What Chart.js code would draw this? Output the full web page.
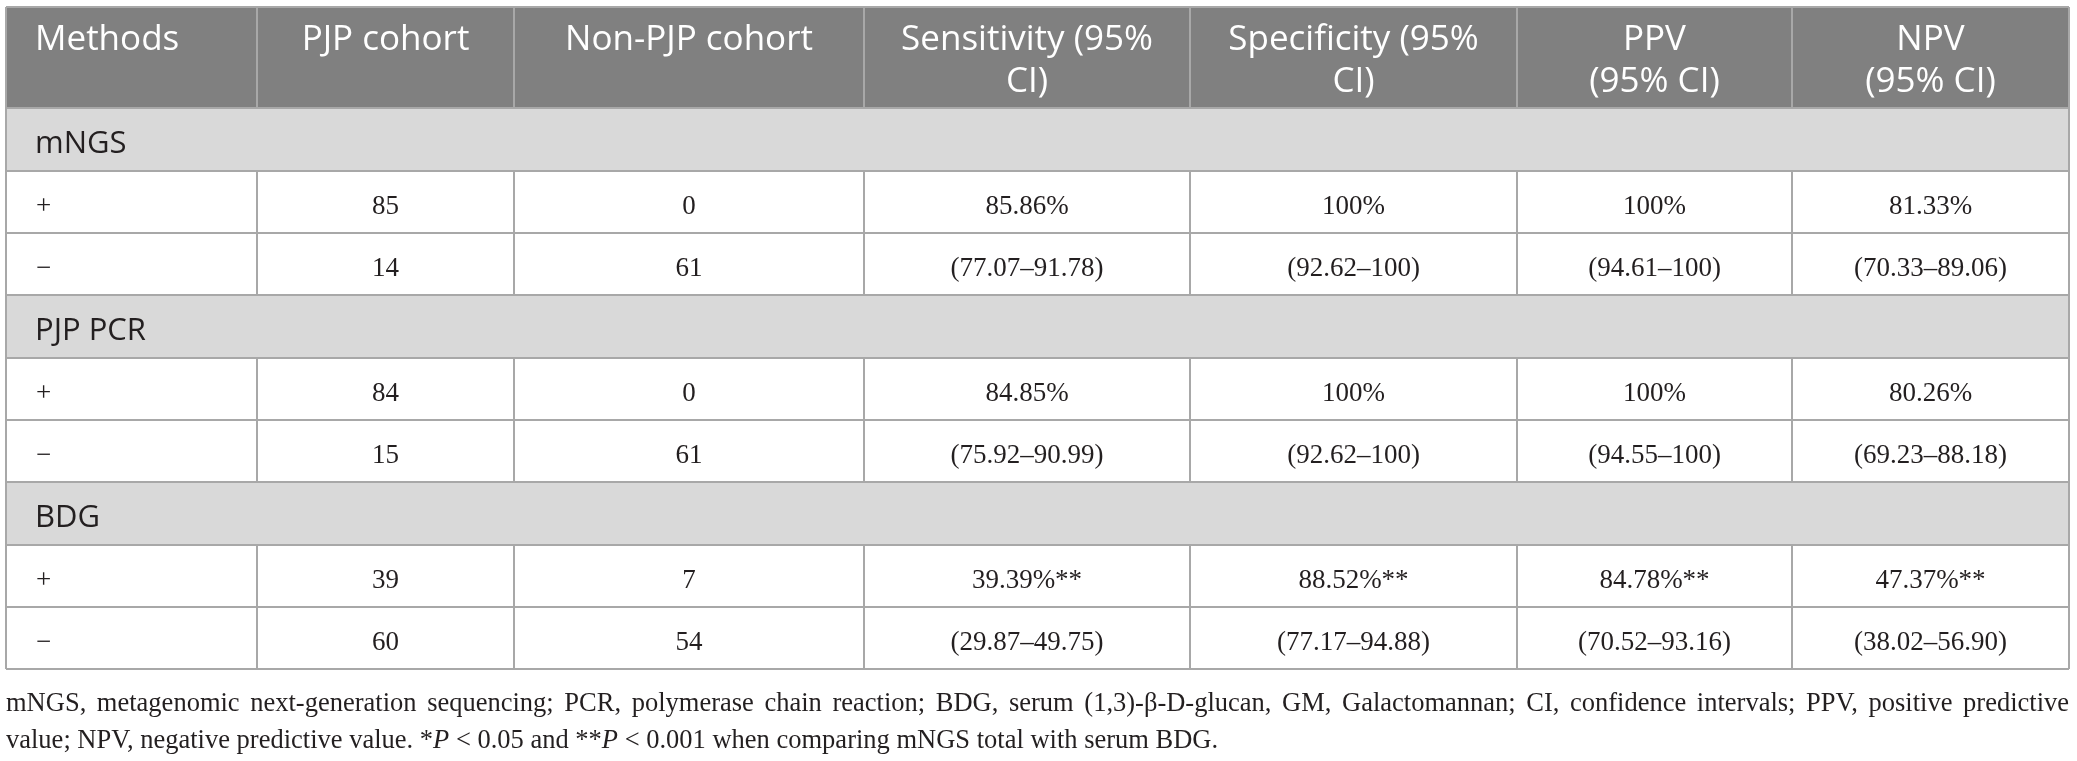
<!DOCTYPE html>
<html>
<head>
<meta charset="utf-8">
<script src="https://cdn.jsdelivr.net/npm/chart.js@4.4.1/dist/chart.umd.min.js"></script>
<style>
  html, body { margin: 0; padding: 0; background: #fff; overflow: hidden; }
  #caja { width: 2077px; height: 761px; }
</style>
</head>
<body>
<div id="caja"><canvas id="tabla"></canvas></div>
<script>
//Datos
    var cabeceras = ["Methods", "PJP cohort", "Non-PJP cohort", "Sensitivity (95%\nCI)",
        "Specificity (95%\nCI)", "PPV\n(95% CI)", "NPV\n(95% CI)"];
    var metodos = ["mNGS", "PJP PCR", "BDG"];
    var resultados = ["+", "\u2212"];
    var pjp = [[85, 14], [84, 15], [39, 60]];
    var noPjp = [[0, 61], [0, 61], [7, 54]];
    var sensibilidad = [["85.86%", "(77.07\u201391.78)"], ["84.85%", "(75.92\u201390.99)"], ["39.39%**", "(29.87\u201349.75)"]];
    var especificidad = [["100%", "(92.62\u2013100)"], ["100%", "(92.62\u2013100)"], ["88.52%**", "(77.17\u201394.88)"]];
    var vpp = [["100%", "(94.61\u2013100)"], ["100%", "(94.55\u2013100)"], ["84.78%**", "(70.52\u201393.16)"]];
    var vpn = [["81.33%", "(70.33\u201389.06)"], ["80.26%", "(69.23\u201388.18)"], ["47.37%**", "(38.02\u201356.90)"]];
    var notas = [
        "mNGS, metagenomic next-generation sequencing; PCR, polymerase chain reaction; BDG, serum (1,3)-\u03b2-D-glucan, GM, Galactomannan; CI, confidence intervals; PPV, positive predictive",
        "value; NPV, negative predictive value. *P < 0.05 and **P < 0.001 when comparing mNGS total with serum BDG."
    ];

//Diseño (en unidades de los ejes)
    var colBordes = [6, 257, 514, 864, 1190, 1517, 1792, 2069];
    var filaBordes = [7, 108];
    (function(){
        var y = 108;
        for(var m = 0; m < metodos.length; m++){
            y += 63; filaBordes.push(y);
            for(var r = 0; r < resultados.length; r++){ y += 62; filaBordes.push(y); }
        }
    })();
    var sans = "'Open Sans', 'Noto Sans', sans-serif";
    var serif = "'Liberation Serif', 'DejaVu Serif', serif";
    var tinta = "#231f20", borde = "#a8a8a8";

//Funciones
    //Separa la nota en partes normales y en cursiva (P)
        function partesNota(linea){
            var partes = [], trozos = linea.split(/(\*+P)/);
            for(var a = 0; a < trozos.length; a++){
                if(trozos[a] == "") continue;
                var m = trozos[a].match(/^(\*+)P$/);
                if(m){
                    partes.push({t: m[1], it: false});
                    partes.push({t: "P", it: true});
                }else partes.push({t: trozos[a], it: false});
            }
            return partes;
        }

    //Plugin que dibuja la tabla usando las escalas
        var pluginTabla = {
            id: "tabla",
            afterDraw: function(chart){
                var ctx = chart.ctx, sx = chart.scales.x, sy = chart.scales.y;
                var X = function(v){ return sx.getPixelForValue(v); };
                var Y = function(v){ return sy.getPixelForValue(v); };
                var x0 = X(colBordes[0]), x1 = X(colBordes[colBordes.length - 1]);
                ctx.save();

                //Fondos
                    ctx.fillStyle = "#808080";
                    ctx.fillRect(x0, Y(filaBordes[0]), x1 - x0, Y(filaBordes[1]) - Y(filaBordes[0]));
                    var secciones = [];
                    for(var m = 0; m < metodos.length; m++) secciones.push(1 + m * 3);
                    ctx.fillStyle = "#d9d9d9";
                    secciones.forEach(function(f){
                        ctx.fillRect(x0, Y(filaBordes[f]), x1 - x0, Y(filaBordes[f + 1]) - Y(filaBordes[f]));
                    });

                //Líneas
                    ctx.strokeStyle = borde;
                    ctx.lineWidth = 2;
                    ctx.beginPath();
                    for(var f = 0; f < filaBordes.length; f++){
                        ctx.moveTo(x0, Y(filaBordes[f]));
                        ctx.lineTo(x1, Y(filaBordes[f]));
                    }
                    for(var c = 0; c < colBordes.length; c++){
                        var xc = X(colBordes[c]);
                        for(var f = 0; f < filaBordes.length - 1; f++){
                            var interna = c > 0 && c < colBordes.length - 1;
                            if(interna && secciones.indexOf(f) >= 0) continue;
                            ctx.moveTo(xc, Y(filaBordes[f]));
                            ctx.lineTo(xc, Y(filaBordes[f + 1]));
                        }
                    }
                    ctx.stroke();

                //Cabecera
                    ctx.fillStyle = "#ffffff";
                    ctx.font = "35px " + sans;
                    ctx.textBaseline = "alphabetic";
                    for(var c = 0; c < cabeceras.length; c++){
                        var lineas = cabeceras[c].split("\n");
                        for(var l = 0; l < lineas.length; l++){
                            var yb = Y(filaBordes[0] + 43 + l * 42);
                            if(c == 0){
                                ctx.textAlign = "left";
                                ctx.fillText(lineas[l], X(colBordes[0] + 29), yb);
                            }else{
                                ctx.textAlign = "center";
                                ctx.fillText(lineas[l], (X(colBordes[c]) + X(colBordes[c + 1])) / 2, yb);
                            }
                        }
                    }

                //Filas
                    var fila = 1;
                    for(var m = 0; m < metodos.length; m++){
                        ctx.fillStyle = tinta;
                        ctx.textAlign = "left";
                        ctx.font = "31px " + sans;
                        ctx.fillText(metodos[m], X(colBordes[0] + 29), Y(filaBordes[fila] + 45));
                        fila++;
                        for(var r = 0; r < resultados.length; r++){
                            var celdas = [resultados[r], pjp[m][r], noPjp[m][r], sensibilidad[m][r],
                                especificidad[m][r], vpp[m][r], vpn[m][r]];
                            var yb = Y((filaBordes[fila] + filaBordes[fila + 1]) / 2 + 12);
                            ctx.font = "27px " + serif;
                            for(var c = 0; c < celdas.length; c++){
                                if(c == 0){
                                    ctx.textAlign = "left";
                                    ctx.fillText(celdas[c], X(colBordes[0] + 30), yb);
                                }else{
                                    ctx.textAlign = "center";
                                    ctx.fillText(String(celdas[c]), (X(colBordes[c]) + X(colBordes[c + 1])) / 2, yb);
                                }
                            }
                            fila++;
                        }
                    }

                //Notas al pie
                    ctx.fillStyle = tinta;
                    ctx.textAlign = "left";
                    var tam = 26.5;
                    //Primera línea justificada
                        ctx.font = tam + "px " + serif;
                        var palabras = notas[0].split(" "), suma = 0;
                        palabras.forEach(function(p){ suma += ctx.measureText(p).width; });
                        var hueco = (x1 - x0 - suma) / (palabras.length - 1);
                        var xp = x0, y1 = Y(711);
                        palabras.forEach(function(p){
                            ctx.fillText(p, xp, y1);
                            xp += ctx.measureText(p).width + hueco;
                        });
                    //Segunda línea
                        var partes = partesNota(notas[1]);
                        xp = x0;
                        var y2 = Y(748);
                        partes.forEach(function(p){
                            ctx.font = (p.it ? "italic " : "") + tam + "px " + serif;
                            ctx.fillText(p.t, xp, y2);
                            xp += ctx.measureText(p.t).width;
                        });

                ctx.restore();
            }
        };

//Gráfico
    var grafico = new Chart(document.getElementById("tabla"), {
        type: "scatter",
        data: { datasets: [{ data: [], pointRadius: 0 }] },
        options: {
            responsive: true,
            maintainAspectRatio: false,
            animation: false,
            layout: { padding: 0 },
            plugins: { legend: { display: false }, tooltip: { enabled: false } },
            scales: {
                x: { type: "linear", min: 0, max: 2077, display: false },
                y: { type: "linear", min: 0, max: 761, reverse: true, display: false }
            }
        },
        plugins: [pluginTabla]
    });
</script>
</body>
</html>
